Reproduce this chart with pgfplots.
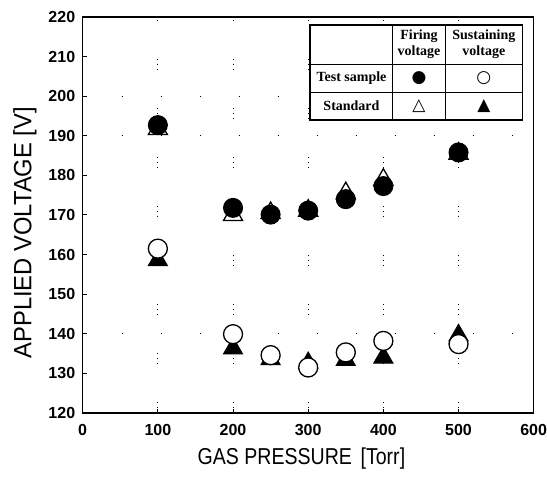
\documentclass[border=0pt]{standalone}
\usepackage{fontspec}
\setmainfont{Liberation Sans}
\newfontfamily\legfont{Liberation Serif}
\newfontfamily\symfont{DejaVu Sans}
\usepackage{pgfplots}
\pgfplotsset{compat=1.18}
\begin{document}
\begin{tikzpicture}
\path[use as bounding box] (-82.7pt,-71pt) rectangle (464.3pt,413pt);
\begin{axis}[
 scale only axis, width=451pt, height=396pt,
 at={(0pt,0pt)}, anchor=south west,
 xmin=0, xmax=600, ymin=120, ymax=220,
 xtick={0,100,...,600}, ytick={120,130,...,220},
 tick align=inside, xtick pos=left, ytick pos=left,
 major tick length=4pt,
 axis line style={line width=1.3pt},
 tick style={line width=1pt, black},
 ticklabel style={font=\bfseries\fontsize{16}{18}\selectfont},
 xticklabel style={yshift=-8pt},
 yticklabel style={xshift=-4pt},
 /pgf/number format/assume math mode=true,
 /pgf/number format/1000 sep={},
 xmajorgrids,
 grid style={black, line width=0.9pt, dash pattern=on 1pt off 4pt on 1pt off 4pt on 1pt off 38pt},
 extra y ticks={140,190,200},
 extra y tick labels={},
 extra tick style={major tick length=0pt, ymajorgrids, grid style={black, line width=0.9pt, dash pattern=on 1pt off 38pt}},
 xlabel={\scalebox{0.85}[1]{GAS PRESSURE \,[Torr]}},
 ylabel={\scalebox{0.95}[1]{APPLIED VOLTAGE [V]}},
 xlabel style={font=\fontsize{23}{26}\selectfont, at={(axis description cs:0.485,-0.114)}, anchor=center},
 ylabel style={font=\fontsize{25}{28}\selectfont, at={(axis description cs:-0.128,0.455)}, anchor=center},
]
% Firing voltage, standard (open triangle)
\addplot[only marks, mark=triangle*, mark size=11pt, mark options={fill=white, draw=black, line width=1.3pt}]
 coordinates {(100,191.7) (200,170.0) (250,170.5) (300,171.1) (350,175.5) (400,178.9) (500,185.5)};
% Sustaining voltage, standard (filled triangle)
\addplot[only marks, mark=triangle*, mark size=11pt, mark options={fill=black, draw=black, line width=1pt}]
 coordinates {(100,158.6) (200,136.3) (250,133.6) (300,132.6) (350,133.4) (400,134.0) (500,139.6)};
% Firing voltage, test sample (filled circle)
\addplot[only marks, mark=*, mark size=9.5pt, mark options={fill=black, draw=black, line width=1pt}]
 coordinates {(100,192.7) (200,171.8) (250,170.1) (300,171.1) (350,174.0) (400,177.3) (500,185.8)};
% Sustaining voltage, test sample (open circle)
\addplot[only marks, mark=*, mark size=9.5pt, mark options={fill=white, draw=black, line width=1.3pt}]
 coordinates {(100,161.5) (200,139.9) (250,134.6) (300,131.5) (350,135.3) (400,138.2) (500,137.4)};
% legend table
\draw[line width=1.3pt, fill=white] (axis cs:302.4,218) rectangle (axis cs:585.4,194);
\draw[line width=1pt] (axis cs:412.8,218) -- (axis cs:412.8,194);
\draw[line width=1pt] (axis cs:482,218) -- (axis cs:482,194);
\draw[line width=1pt] (axis cs:302.4,208.1) -- (axis cs:585.4,208.1);
\draw[line width=1pt] (axis cs:302.4,201) -- (axis cs:585.4,201);
\begin{scope}[every node/.style={font=\legfont\bfseries\fontsize{14}{16}\selectfont, align=center, inner sep=0pt}]
\node at (axis cs:447.4,213.05) {Firing\\voltage};
\node at (axis cs:533.7,213.05) {Sustaining\\voltage};
\node at (axis cs:357.6,204.55) {Test sample};
\node at (axis cs:357.6,197.5) {Standard};
\node at (axis cs:447.4,204.55) {\symfont\fontsize{17}{17}\selectfont ●};
\node at (axis cs:533.7,204.55) {\symfont\fontsize{17}{17}\selectfont ○};
\node at (axis cs:447.4,197.5) {\symfont\fontsize{17}{17}\selectfont △};
\node at (axis cs:533.7,197.5) {\symfont\fontsize{17}{17}\selectfont ▲};
\end{scope}
\end{axis}
\end{tikzpicture}
\end{document}
